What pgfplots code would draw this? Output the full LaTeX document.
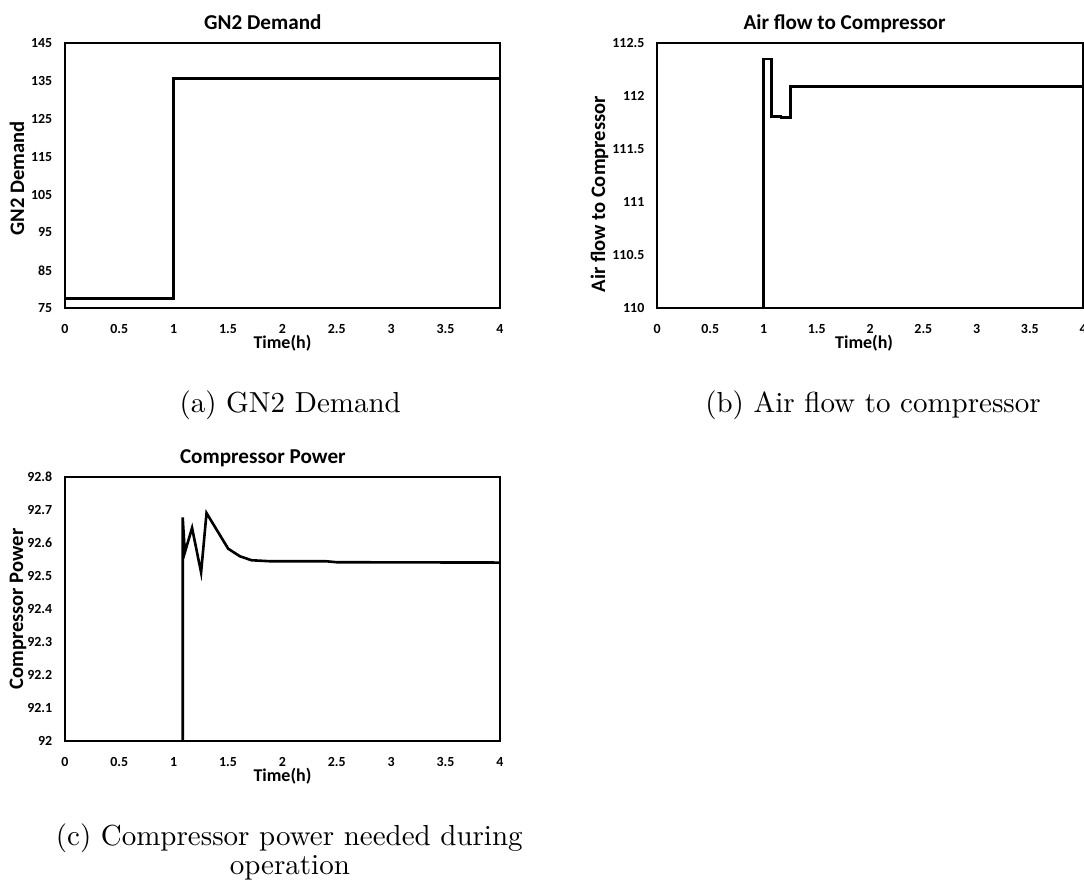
\documentclass[border=0pt]{standalone}
\usepackage{fontspec}
\usepackage{pgfplots}
\pgfplotsset{compat=1.18}
\newfontfamily\carl{Carlito}

\pgfplotsset{
  every axis title/.style={at={(0.5,1)}, anchor=base, inner sep=0pt,
    font=\carl\bfseries\fontsize{7.3}{8}\selectfont},
  excelplot/.style={
    scale only axis,
    anchor=south west,
    line width=0.6pt,
    major tick length=0pt,
    xmin=0, xmax=4,
    xtick={0,0.5,...,4},
    /pgf/number format/assume math mode=true,
    ticklabel style={font=\carl\bfseries\fontsize{4.8}{5.5}\selectfont, inner sep=0pt},
    xticklabel style={anchor=base, yshift=-8.6pt},
    yticklabel style={anchor=east, xshift=-4.1pt},
    label style={font=\carl\bfseries\fontsize{7.1}{8}\selectfont, inner sep=0pt},
    xlabel style={font=\carl\bfseries\fontsize{6.2}{7}\selectfont, anchor=base},
    xlabel={Time(h)},
  },
  dataline/.style={black, line width=0.9pt, mark=none},
}

\begin{document}
\begin{tikzpicture}
\useasboundingbox (0,0) rectangle (374pt,305.7pt);

% (a) GN2 demand
\begin{axis}[excelplot,
  at={(22.4pt,199.4pt)}, width=150.1pt, height=91.4pt,
  ymin=75, ymax=145, ytick={75,85,...,145},
  title={GN2 Demand},
  title style={at={(axis description cs:0.455,1.051)}},
  xlabel style={at={(axis description cs:0.5,-0.153)}},
  ylabel={GN2 Demand},
  ylabel style={at={(axis description cs:-0.094,0.489)}, anchor=base},
]
\addplot[dataline] coordinates {
  (0,77.6) (1,77.6) (1,135.7) (4,135.7)
};
\end{axis}

% (b) air flow to compressor
\begin{axis}[excelplot,
  at={(226.7pt,199.4pt)}, width=147pt, height=91.4pt,
  ymin=110, ymax=112.5, ytick={110,110.5,111,111.5,112,112.5},
  title={Air flow to Compressor},
  title style={at={(axis description cs:0.44,1.051)}},
  xlabel style={at={(axis description cs:0.486,-0.153)}},
  ylabel={Air flow to Compressor},
  ylabel style={at={(axis description cs:-0.122,0.43)}, anchor=base},
]
\addplot[dataline] coordinates {
  (1,110) (1,112.35) (1.075,112.35) (1.075,111.81) (1.165,111.81)
  (1.165,111.80) (1.25,111.80) (1.25,112.09) (4,112.09)
};
\end{axis}

% (c) compressor power
\begin{axis}[excelplot,
  at={(22.4pt,50pt)}, width=150.1pt, height=91.1pt,
  ymin=92, ymax=92.8, ytick={92,92.1,92.2,92.3,92.4,92.5,92.6,92.7,92.8},
  title={Compressor Power},
  title style={at={(axis description cs:0.455,1.051)}},
  xlabel style={at={(axis description cs:0.5,-0.154)}},
  ylabel={Compressor Power},
  ylabel style={at={(axis description cs:-0.096,0.5)}, anchor=base},
]
\addplot[dataline] coordinates {
  (1.083,92) (1.083,92.678) (1.102,92.571) (1.169,92.646) (1.252,92.511)
  (1.302,92.691) (1.501,92.583) (1.609,92.560) (1.716,92.548) (1.885,92.545)
  (2.4,92.545) (2.5,92.542) (4,92.541)
};
\end{axis}

% subfigure captions
\node[anchor=base, font=\fontsize{10}{12}\selectfont] at (100.1pt,163.5pt) {(a) GN2 Demand};
\node[anchor=base, font=\fontsize{10}{12}\selectfont] at (301.2pt,163.5pt) {(b) Air flow to compressor};
\node[anchor=base, font=\fontsize{10}{12}\selectfont] at (99.8pt,14.1pt) {(c) Compressor power needed during};
\node[anchor=base, font=\fontsize{10}{12}\selectfont] at (100pt,4.1pt) {operation};
\end{tikzpicture}
\end{document}
